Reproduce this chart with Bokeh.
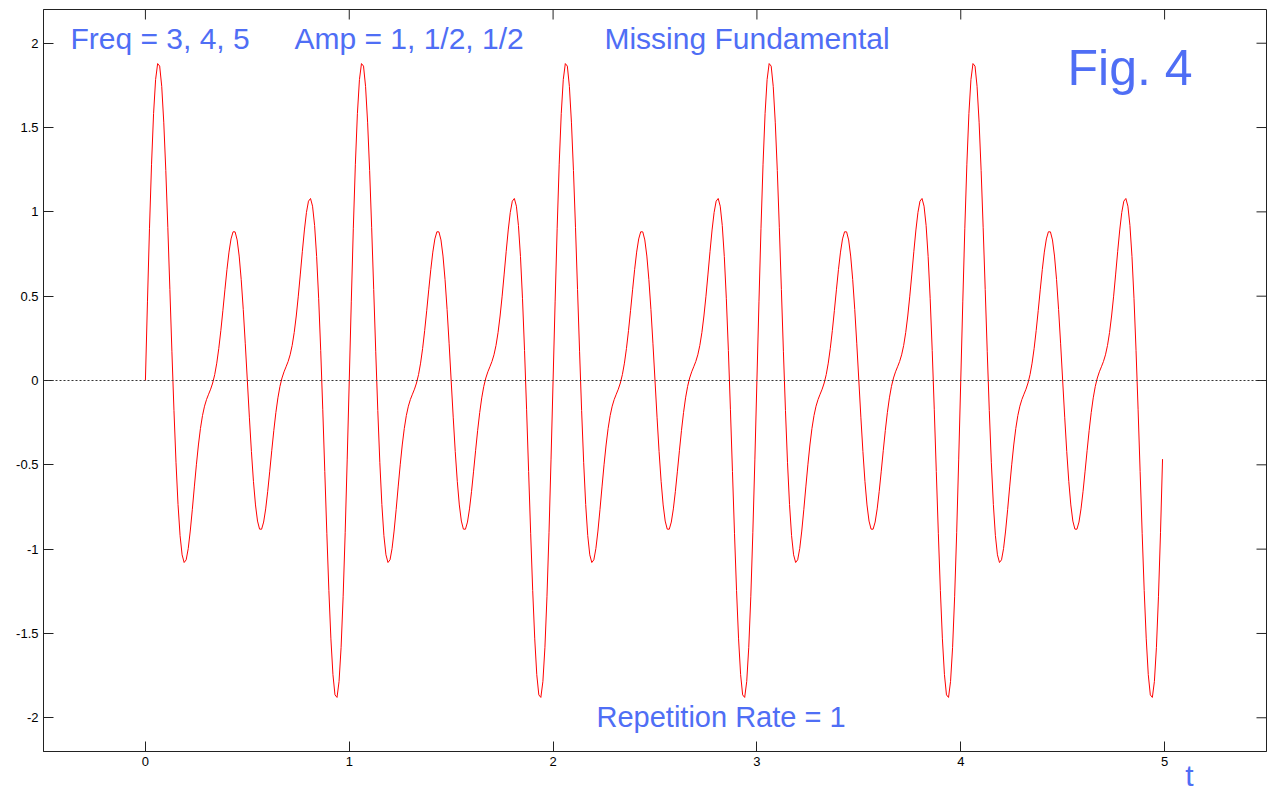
import numpy as np
from bokeh.plotting import figure
from bokeh.models import Range1d, FixedTicker, Label, Span, Title
from bokeh.embed import file_html
from bokeh.resources import INLINE

# Signal components stated on the chart
freqs = [3, 4, 5]
amps = [1.0, 0.5, 0.5]
t = np.arange(0, 5, 0.01)
signal = sum(a * np.sin(2 * np.pi * f * t) for f, a in zip(freqs, amps))

x_ticks = [0, 1, 2, 3, 4, 5]
x_tick_labels = ["0", "1", "2", "3", "4", "5"]
y_ticks = [-2, -1.5, -1, -0.5, 0, 0.5, 1, 1.5, 2]
y_tick_labels = ["-2", "-1.5", "-1", "-0.5", "0", "0.5", "1", "1.5", "2"]

X_MIN, X_MAX = -0.5, 5.5
Y_MIN, Y_MAX = -2.2, 2.2

BLUE = "#4f6ef5"
FONT = "Liberation Sans"
AX = "#222222"

p = figure(width=1273, height=790, output_backend="svg", toolbar_location=None,
           x_range=Range1d(X_MIN, X_MAX), y_range=Range1d(Y_MIN, Y_MAX),
           min_border_left=43, min_border_right=7, min_border_top=9, min_border_bottom=39)
p.grid.visible = False
p.outline_line_color = AX
p.outline_line_width = 1
p.background_fill_color = "white"
p.border_fill_color = "white"

def style_axis(ax, ticks, labels):
    ax.ticker = FixedTicker(ticks=ticks)
    ax.major_label_overrides = {k: v for k, v in zip(ticks, labels)}
    ax.major_tick_in = 10
    ax.major_tick_out = 0
    ax.minor_tick_line_color = None
    ax.major_tick_line_color = AX
    ax.axis_line_color = AX
    ax.major_label_text_font = FONT
    ax.major_label_text_color = "black"
    ax.major_label_text_font_size = "13px"
    ax.major_label_standoff = 5

style_axis(p.xaxis[0], x_ticks, x_tick_labels)
style_axis(p.yaxis[0], y_ticks, y_tick_labels)

# inward ticks on the top and right edges of the box
p.ray(x=x_ticks, y=[Y_MAX] * len(x_ticks), length=10, length_units="screen",
      angle=-np.pi / 2, line_color=AX, line_width=1)
p.ray(x=[X_MAX] * len(y_ticks), y=y_ticks, length=10, length_units="screen",
      angle=np.pi, line_color=AX, line_width=1)

p.add_layout(Span(location=0, dimension="width", line_color="#333333",
                  line_dash="2 2", line_width=1))

p.line(t, signal, line_color="#ff0000", line_width=1)

texts = [
    ("Freq = 3, 4, 5", -0.368, 2.03, "30px"),
    ("Amp = 1, 1/2, 1/2", 0.731, 2.03, "30px"),
    ("Missing Fundamental", 2.252, 2.03, "30px"),
    ("Fig. 4", 4.524, 1.855, "50px"),
    ("Repetition Rate = 1", 2.213, -1.998, "29px"),
]
for txt, x, y, size in texts:
    p.add_layout(Label(x=x, y=y, text=txt, text_font=FONT, text_font_size=size,
                       text_color=BLUE, text_baseline="alphabetic", text_align="left"))

# x-axis name, in the bottom margin near the right end
t_title = Title(text="t", align="right", vertical_align="top", offset=73, standoff=-20,
                text_font=FONT, text_font_size="30px", text_font_style="normal",
                text_color=BLUE)
p.add_layout(t_title, "below")

open("out.html", "w").write(file_html(p, INLINE))
